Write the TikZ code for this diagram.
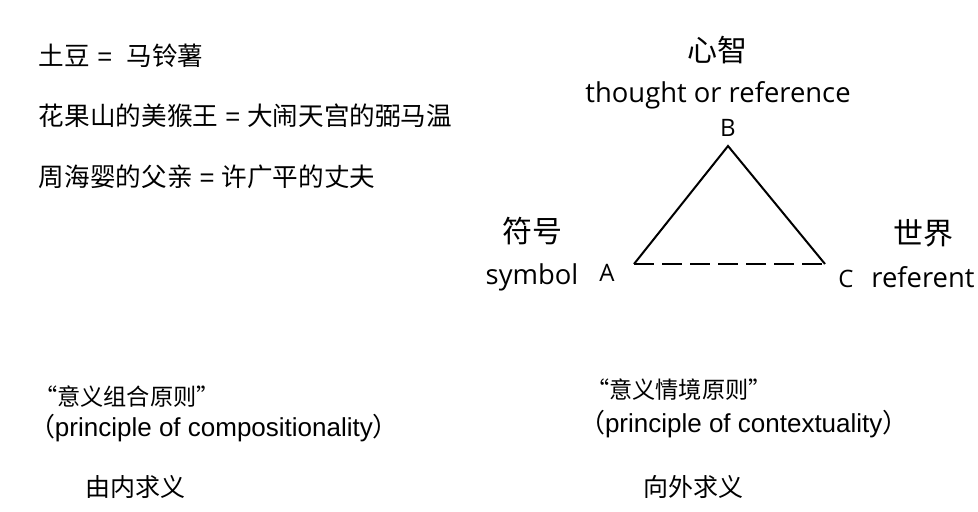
\documentclass[tikz,border=0pt]{standalone}
\usepackage{fontspec}
\setmainfont{Liberation Sans}
\newfontfamily\cjk{Noto Sans CJK SC}
\newfontfamily\segoe{Open Sans}
\newcommand{\cjkparen}[1]{{\cjk\fontsize{13pt}{15pt}\selectfont #1}}

\begin{document}
\begin{tikzpicture}[x=0.5pt,y=-0.5pt,
		txt/.style={inner sep=0pt,outer sep=0pt},
		lefttxt/.style={txt,anchor=west},
		eqline/.style={lefttxt,font=\fontsize{12.8pt}{15pt}\selectfont},
		quoteline/.style={lefttxt,font=\cjk\fontsize{11.6pt}{13pt}\selectfont},
		princline/.style={txt,anchor=base west,font=\fontsize{13pt}{15pt}\selectfont},
		wayline/.style={lefttxt,font=\cjk\fontsize{12.5pt}{15pt}\selectfont},
		zh/.style={txt,font=\cjk\fontsize{15pt}{18pt}\selectfont},
		en/.style={txt,anchor=base,font=\segoe\fontsize{13.7pt}{16pt}\selectfont},
		vtx/.style={txt,anchor=base,font=\segoe\fontsize{12pt}{14pt}\selectfont},
		tri/.style={line width=1pt}]
		\useasboundingbox (0,0) rectangle (978,512);
		\node[eqline] (potato) at (39,56) {{\cjk 土豆} =\ \ {\cjk 马铃薯}};
		\node[eqline] (monkey) at (39,116) {{\cjk 花果山的美猴王} = {\cjk 大闹天宫的弼马温}};
		\node[eqline] (father) at (39,177) {{\cjk 周海婴的父亲} = {\cjk 许广平的丈夫}};
		\coordinate (vA) at (634,264);
		\coordinate (vB) at (728,146);
		\coordinate (vC) at (825,264);
		\draw[tri] (vA) -- (vB) -- (vC);
		\draw[tri,dash pattern=on 10pt off 4pt] (vA) -- (vC);
		\node[vtx] (labB) at (728,137) {B};
		\node[vtx] (labA) at (607,282) {A};
		\node[vtx] (labC) at (846,288) {C};
		\node[zh] (mind) at (717,50) {心智};
		\node[en] (mindEn) at (718,103) {thought or reference};
		\node[zh] (symZh) at (532,231) {符号};
		\node[en] (symEn) at (532,285) {symbol};
		\node[zh] (worldZh) at (923,233) {世界};
		\node[en] (worldEn) at (923,288) {referent};
		\node[quoteline] (compZh) at (34,397) {“意义组合原则”};
		\node[princline] (compEn) at (29,437) {\cjkparen{（}principle of compositionality\cjkparen{）}};
		\node[wayline] (compWay) at (85,487) {由内求义};
		\node[quoteline] (contZh) at (586,390) {“意义情境原则”};
		\node[princline] (contEn) at (579,432) {\cjkparen{（}principle of contextuality\cjkparen{）}};
		\node[wayline] (contWay) at (643,487) {向外求义};
	\end{tikzpicture}
\end{document}
